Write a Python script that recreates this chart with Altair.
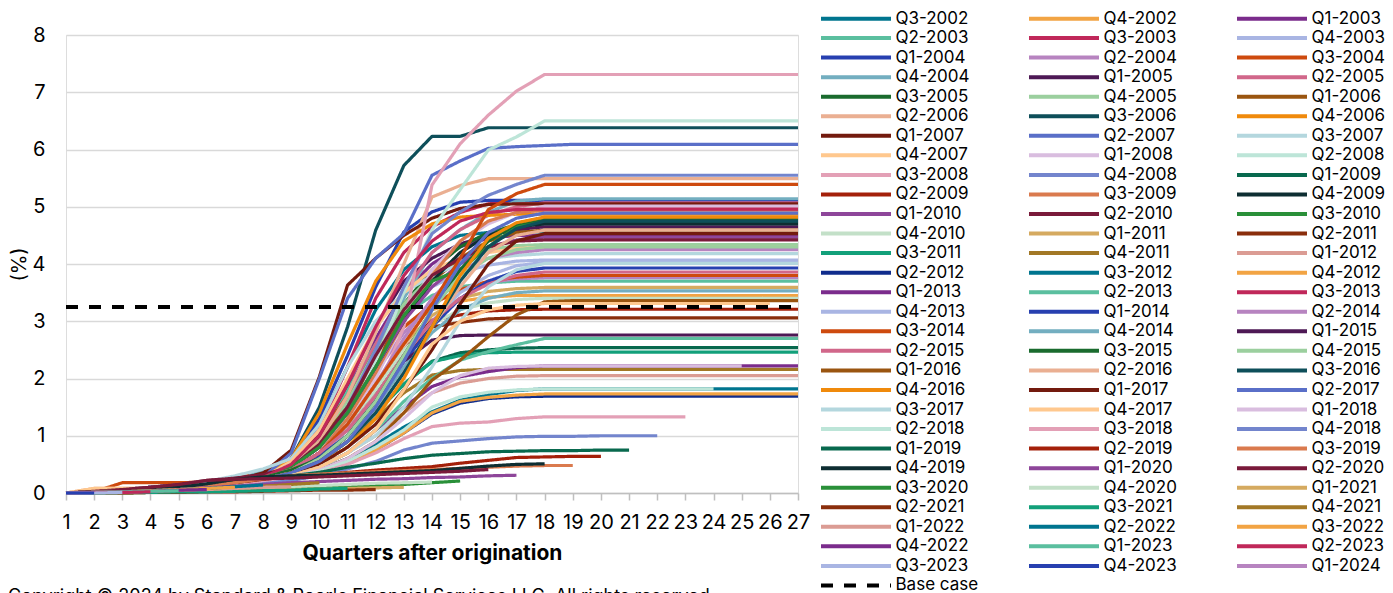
import altair as alt
import pandas as pd

cohorts = [
    "Q3-2002", "Q4-2002",
    "Q1-2003", "Q2-2003", "Q3-2003", "Q4-2003",
    "Q1-2004", "Q2-2004", "Q3-2004", "Q4-2004",
    "Q1-2005", "Q2-2005", "Q3-2005", "Q4-2005",
    "Q1-2006", "Q2-2006", "Q3-2006", "Q4-2006",
    "Q1-2007", "Q2-2007", "Q3-2007", "Q4-2007",
    "Q1-2008", "Q2-2008", "Q3-2008", "Q4-2008",
    "Q1-2009", "Q2-2009", "Q3-2009", "Q4-2009",
    "Q1-2010", "Q2-2010", "Q3-2010", "Q4-2010",
    "Q1-2011", "Q2-2011", "Q3-2011", "Q4-2011",
    "Q1-2012", "Q2-2012", "Q3-2012", "Q4-2012",
    "Q1-2013", "Q2-2013", "Q3-2013", "Q4-2013",
    "Q1-2014", "Q2-2014", "Q3-2014", "Q4-2014",
    "Q1-2015", "Q2-2015", "Q3-2015", "Q4-2015",
    "Q1-2016", "Q2-2016", "Q3-2016", "Q4-2016",
    "Q1-2017", "Q2-2017", "Q3-2017", "Q4-2017",
    "Q1-2018", "Q2-2018", "Q3-2018", "Q4-2018",
    "Q1-2019", "Q2-2019", "Q3-2019", "Q4-2019",
    "Q1-2020", "Q2-2020", "Q3-2020", "Q4-2020",
    "Q1-2021", "Q2-2021", "Q3-2021", "Q4-2021",
    "Q1-2022", "Q2-2022", "Q3-2022", "Q4-2022",
    "Q1-2023", "Q2-2023", "Q3-2023", "Q4-2023",
    "Q1-2024",
]

# cumulative values (%) by quarter after origination, one list per cohort
loss_2002 = [
    [0, 0.02, 0.04, 0.06, 0.09, 0.13, 0.19, 0.27, 0.6, 1.2, 2.2, 3.2, 3.9, 4.3, 4.5, 4.55, 4.56, 4.56, 4.56, 4.56, 4.56, 4.56, 4.56, 4.56, 4.56, 4.56, 4.56],
    [0, 0.01, 0.03, 0.05, 0.07, 0.11, 0.16, 0.24, 0.5, 0.9, 1.6, 2.3, 2.9, 3.2, 3.35, 3.42, 3.45, 3.45, 3.45, 3.45, 3.45, 3.45, 3.45, 3.45, 3.45, 3.45, 3.45],
]
loss_2003 = [
    [0, 0.03, 0.06, 0.1, 0.14, 0.2, 0.26, 0.32, 0.5, 1.0, 1.8, 2.7, 3.5, 4.0, 4.3, 4.45, 4.5, 4.5, 4.5, 4.5, 4.5, 4.5, 4.5, 4.5, 4.5, 4.5, 4.5],
    [0, 0.02, 0.04, 0.06, 0.09, 0.13, 0.19, 0.27, 0.55, 1.0, 1.8, 2.6, 3.1, 3.45, 3.6, 3.67, 3.7, 3.7, 3.7, 3.7, 3.7, 3.7, 3.7, 3.7, 3.7, 3.7, 3.7],
    [0, 0.02, 0.04, 0.06, 0.09, 0.13, 0.19, 0.27, 0.55, 1.1, 2.2, 3.4, 4.2, 4.65, 4.9, 5.05, 5.1, 5.1, 5.1, 5.1, 5.1, 5.1, 5.1, 5.1, 5.1, 5.1, 5.1],
    [0, 0.01, 0.03, 0.05, 0.07, 0.11, 0.16, 0.24, 0.5, 0.9, 1.6, 2.4, 3.1, 3.6, 3.85, 3.98, 4.05, 4.07, 4.07, 4.07, 4.07, 4.07, 4.07, 4.07, 4.07, 4.07, 4.07],
]
loss_2004 = [
    [0, 0.03, 0.06, 0.1, 0.14, 0.2, 0.26, 0.32, 0.6, 1.3, 2.4, 3.6, 4.56, 4.91, 5.08, 5.11, 5.11, 5.11, 5.11, 5.11, 5.11, 5.11, 5.11, 5.11, 5.11, 5.11, 5.11],
    [0, 0.02, 0.04, 0.06, 0.09, 0.13, 0.19, 0.27, 0.45, 0.8, 1.4, 2.1, 2.8, 3.3, 3.55, 3.68, 3.74, 3.76, 3.76, 3.76, 3.76, 3.76, 3.76, 3.76, 3.76, 3.76, 3.76],
    [0, 0.02, 0.18, 0.18, 0.18, 0.19, 0.28, 0.33, 0.55, 1.0, 1.7, 2.4, 2.9, 3.3, 3.55, 3.7, 3.77, 3.8, 3.8, 3.8, 3.8, 3.8, 3.8, 3.8, 3.8, 3.8, 3.8],
    [0, 0.02, 0.04, 0.06, 0.09, 0.13, 0.19, 0.4, 0.5, 0.9, 1.6, 2.5, 3.4, 4.2, 4.6, 4.9, 5.1, 5.14, 5.14, 5.14, 5.14, 5.14, 5.14, 5.14, 5.14, 5.14, 5.14],
]
loss_2005 = [
    [0, 0.03, 0.06, 0.1, 0.14, 0.2, 0.26, 0.32, 0.5, 1.0, 1.9, 2.9, 3.7, 4.1, 4.35, 4.5, 4.6, 4.65, 4.65, 4.65, 4.65, 4.65, 4.65, 4.65, 4.65, 4.65, 4.65],
    [0, 0.02, 0.04, 0.06, 0.09, 0.13, 0.19, 0.27, 0.45, 0.9, 1.7, 2.6, 3.5, 4.2, 4.6, 4.85, 5.0, 5.07, 5.07, 5.07, 5.07, 5.07, 5.07, 5.07, 5.07, 5.07, 5.07],
    [0, 0.02, 0.04, 0.06, 0.09, 0.13, 0.19, 0.27, 0.5, 0.9, 1.6, 2.5, 3.3, 3.9, 4.3, 4.55, 4.68, 4.72, 4.72, 4.72, 4.72, 4.72, 4.72, 4.72, 4.72, 4.72, 4.72],
    [0, 0.01, 0.03, 0.05, 0.07, 0.11, 0.16, 0.24, 0.5, 0.9, 1.6, 2.5, 3.3, 3.8, 4.1, 4.25, 4.32, 4.34, 4.34, 4.34, 4.34, 4.34, 4.34, 4.34, 4.34, 4.34, 4.34],
]
loss_2006 = [
    [0, 0.02, 0.04, 0.06, 0.09, 0.13, 0.19, 0.27, 0.5, 0.9, 1.5, 2.3, 3.1, 3.7, 4.1, 4.4, 4.55, 4.59, 4.59, 4.59, 4.59, 4.59, 4.59, 4.59, 4.59, 4.59, 4.59],
    [0, 0.08, 0.08, 0.08, 0.09, 0.11, 0.16, 0.24, 0.5, 0.9, 1.7, 2.8, 4.0, 5.17, 5.37, 5.49, 5.49, 5.49, 5.49, 5.49, 5.49, 5.49, 5.49, 5.49, 5.49, 5.49, 5.49],
    [0, 0.02, 0.04, 0.06, 0.09, 0.13, 0.19, 0.27, 0.6, 1.5, 2.9, 4.59, 5.72, 6.23, 6.23, 6.38, 6.38, 6.38, 6.38, 6.38, 6.38, 6.38, 6.38, 6.38, 6.38, 6.38, 6.38],
    [0, 0.02, 0.04, 0.06, 0.09, 0.13, 0.19, 0.27, 0.6, 1.4, 2.6, 3.7, 4.4, 4.7, 4.82, 4.85, 4.87, 4.87, 4.87, 4.87, 4.87, 4.87, 4.87, 4.87, 4.87, 4.87, 4.87],
]
loss_2007 = [
    [0, 0.02, 0.04, 0.07, 0.1, 0.15, 0.22, 0.35, 0.75, 2.03, 3.63, 4.1, 4.5, 4.8, 4.97, 5.04, 5.05, 5.05, 5.05, 5.05, 5.05, 5.05, 5.05, 5.05, 5.05, 5.05, 5.05],
    [0, 0.02, 0.04, 0.06, 0.09, 0.13, 0.19, 0.27, 0.7, 2.0, 3.4, 4.1, 4.53, 5.55, 5.8, 6.02, 6.05, 6.07, 6.09, 6.09, 6.09, 6.09, 6.09, 6.09, 6.09, 6.09, 6.09],
    [0, 0.03, 0.06, 0.1, 0.14, 0.2, 0.3, 0.42, 0.6, 1.2, 2.2, 3.0, 3.5, 3.8, 4.0, 4.1, 4.15, 4.18, 4.18, 4.18, 4.18, 4.18, 4.18, 4.18, 4.18, 4.18, 4.18],
    [0, 0.08, 0.08, 0.08, 0.09, 0.13, 0.19, 0.27, 0.55, 1.1, 2.0, 2.9, 3.5, 3.9, 4.1, 4.2, 4.27, 4.29, 4.29, 4.29, 4.29, 4.29, 4.29, 4.29, 4.29, 4.29, 4.29],
]
loss_2008 = [
    [0, 0.01, 0.03, 0.05, 0.07, 0.11, 0.16, 0.24, 0.4, 0.7, 1.2, 2.0, 3.0, 3.9, 4.4, 4.7, 4.9, 5.01, 5.01, 5.01, 5.01, 5.01, 5.01, 5.01, 5.01, 5.01, 5.01],
    [0, 0.02, 0.04, 0.06, 0.09, 0.13, 0.19, 0.27, 0.5, 0.8, 1.3, 2.3, 3.5, 4.6, 5.3, 5.99, 6.22, 6.5, 6.5, 6.5, 6.5, 6.5, 6.5, 6.5, 6.5, 6.5, 6.5],
    [0, 0.01, 0.03, 0.05, 0.07, 0.11, 0.16, 0.24, 0.4, 0.6, 1.0, 1.7, 2.9, 5.38, 6.1, 6.6, 7.02, 7.31, 7.31, 7.31, 7.31, 7.31, 7.31, 7.31, 7.31, 7.31, 7.31],
    [0, 0.02, 0.04, 0.06, 0.09, 0.13, 0.19, 0.27, 0.45, 0.8, 1.5, 2.5, 3.6, 4.53, 4.91, 5.2, 5.39, 5.55, 5.55, 5.55, 5.55, 5.55, 5.55, 5.55, 5.55, 5.55, 5.55],
]
loss_2009 = [
    [0, 0.01, 0.03, 0.05, 0.07, 0.11, 0.16, 0.24, 0.35, 0.55, 0.9, 1.4, 1.9, 2.3, 2.45, 2.5, 2.53, 2.54, 2.54, 2.54, 2.54, 2.54, 2.54, 2.54, 2.54, 2.54, 2.54],
    [0, 0.02, 0.04, 0.06, 0.09, 0.13, 0.19, 0.27, 0.4, 0.7, 1.2, 1.8, 2.5, 3.02, 3.11, 3.18, 3.2, 3.21, 3.21, 3.21, 3.21, 3.21, 3.21, 3.21, 3.21, 3.21, 3.21],
    [0, 0.02, 0.04, 0.06, 0.09, 0.13, 0.19, 0.27, 0.4, 0.7, 1.3, 2.1, 3.0, 3.8, 4.4, 4.75, 4.9, 4.94, 4.94, 4.94, 4.94, 4.94, 4.94, 4.94, 4.94, 4.94, 4.94],
    [0, 0.01, 0.03, 0.05, 0.07, 0.11, 0.16, 0.24, 0.45, 0.8, 1.4, 2.2, 3.0, 3.7, 4.2, 4.5, 4.65, 4.7, 4.7, 4.7, 4.7, 4.7, 4.7, 4.7, 4.7, 4.7, 4.7],
]
loss_2010 = [
    [0, 0.02, 0.04, 0.06, 0.09, 0.13, 0.19, 0.27, 0.45, 0.8, 1.4, 2.2, 3.0, 3.6, 4.0, 4.3, 4.42, 4.47, 4.47, 4.47, 4.47, 4.47, 4.47, 4.47, 4.47, 4.47, 4.47],
    [0, 0.03, 0.06, 0.1, 0.14, 0.22, 0.26, 0.32, 0.45, 0.85, 1.5, 2.4, 3.2, 3.8, 4.1, 4.3, 4.4, 4.42, 4.42, 4.42, 4.42, 4.42, 4.42, 4.42, 4.42, 4.42, 4.42],
    [0, 0.02, 0.04, 0.06, 0.09, 0.13, 0.19, 0.27, 0.45, 0.8, 1.4, 2.2, 3.1, 3.7, 3.9, 4.3, 4.65, 4.76, 4.76, 4.76, 4.76, 4.76, 4.76, 4.76, 4.76, 4.76, 4.76],
    [0, 0.01, 0.03, 0.05, 0.07, 0.11, 0.16, 0.24, 0.4, 0.7, 1.2, 1.8, 2.5, 2.95, 3.2, 3.32, 3.38, 3.4, 3.4, 3.4, 3.4, 3.4, 3.4, 3.4, 3.4, 3.4, 3.4],
]
loss_2011 = [
    [0, 0.02, 0.04, 0.06, 0.09, 0.13, 0.19, 0.27, 0.4, 0.7, 1.2, 1.9, 2.6, 3.1, 3.4, 3.52, 3.57, 3.59, 3.59, 3.59, 3.59, 3.59, 3.59, 3.59, 3.59, 3.59, 3.59],
    [0, 0.01, 0.03, 0.05, 0.07, 0.11, 0.16, 0.24, 0.4, 0.65, 1.1, 1.7, 2.4, 2.9, 2.98, 3.04, 3.06, 3.06, 3.06, 3.06, 3.06, 3.06, 3.06, 3.06, 3.06, 3.06, 3.06],
    [0, 0.01, 0.02, 0.03, 0.05, 0.08, 0.12, 0.2, 0.35, 0.55, 0.9, 1.4, 1.9, 2.29, 2.4, 2.45, 2.46, 2.46, 2.46, 2.46, 2.46, 2.46, 2.46, 2.46, 2.46, 2.46, 2.46],
    [0, 0.01, 0.03, 0.05, 0.07, 0.11, 0.16, 0.24, 0.35, 0.55, 0.9, 1.3, 1.75, 2.06, 2.14, 2.16, 2.16, 2.16, 2.16, 2.16, 2.16, 2.16, 2.16, 2.16, 2.16, 2.16, 2.16],
]
loss_2012 = [
    [0, 0.01, 0.02, 0.03, 0.05, 0.08, 0.12, 0.2, 0.3, 0.45, 0.7, 1.0, 1.4, 1.75, 1.92, 2.0, 2.04, 2.05, 2.05, 2.05, 2.05, 2.05, 2.05, 2.05, 2.05, 2.05, 2.05],
    [0, 0.01, 0.02, 0.03, 0.05, 0.08, 0.12, 0.2, 0.28, 0.38, 0.55, 0.75, 1.05, 1.38, 1.57, 1.65, 1.68, 1.69, 1.69, 1.69, 1.69, 1.69, 1.69, 1.69, 1.69, 1.69, 1.69],
    [0, 0.01, 0.02, 0.03, 0.05, 0.08, 0.12, 0.2, 0.3, 0.4, 0.6, 0.85, 1.15, 1.42, 1.62, 1.72, 1.79, 1.82, 1.82, 1.82, 1.82, 1.82, 1.82, 1.82, 1.82, 1.82, 1.82],
    [0, 0.01, 0.02, 0.03, 0.05, 0.08, 0.12, 0.2, 0.3, 0.4, 0.55, 0.75, 1.05, 1.4, 1.6, 1.67, 1.71, 1.73, 1.73, 1.73, 1.73, 1.73, 1.73, 1.73, 1.73, 1.73, 1.73],
]
loss_2013 = [
    [0, 0.01, 0.02, 0.03, 0.05, 0.08, 0.12, 0.2, 0.3, 0.45, 0.7, 1.1, 1.5, 1.86, 2.03, 2.12, 2.19, 2.22, 2.22, 2.22, 2.22, 2.22, 2.22, 2.22, 2.22, 2.22, 2.22],
    [0, 0.01, 0.02, 0.03, 0.05, 0.08, 0.12, 0.2, 0.3, 0.45, 0.7, 1.1, 1.6, 2.0, 2.32, 2.47, 2.59, 2.7, 2.7, 2.7, 2.7, 2.7, 2.7, 2.7, 2.7, 2.7, 2.7],
    [0, 0.02, 0.04, 0.06, 0.09, 0.13, 0.19, 0.27, 0.5, 1.0, 1.9, 2.9, 3.8, 4.4, 4.75, 4.9, 4.95, 4.96, 4.96, 4.96, 4.96, 4.96, 4.96, 4.96, 4.96, 4.96, 4.96],
    [0, 0.01, 0.03, 0.05, 0.07, 0.11, 0.16, 0.24, 0.4, 0.65, 1.1, 1.7, 2.4, 3.0, 3.5, 3.8, 3.97, 4.03, 4.03, 4.03, 4.03, 4.03, 4.03, 4.03, 4.03, 4.03, 4.03],
]
loss_2014 = [
    [0, 0.01, 0.03, 0.05, 0.07, 0.11, 0.16, 0.24, 0.4, 0.65, 1.0, 1.6, 2.3, 2.9, 3.4, 3.7, 3.87, 3.93, 3.93, 3.93, 3.93, 3.93, 3.93, 3.93, 3.93, 3.93, 3.93],
    [0, 0.02, 0.04, 0.06, 0.09, 0.13, 0.19, 0.27, 0.4, 0.7, 1.2, 1.9, 2.7, 3.4, 3.9, 4.1, 4.2, 4.25, 4.25, 4.25, 4.25, 4.25, 4.25, 4.25, 4.25, 4.25, 4.25],
    [0, 0.02, 0.04, 0.06, 0.09, 0.13, 0.19, 0.27, 0.4, 0.7, 1.2, 1.9, 2.6, 3.3, 4.1, 4.95, 5.23, 5.39, 5.39, 5.39, 5.39, 5.39, 5.39, 5.39, 5.39, 5.39, 5.39],
    [0, 0.01, 0.03, 0.05, 0.07, 0.11, 0.16, 0.24, 0.35, 0.6, 1.0, 1.5, 2.2, 2.8, 3.2, 3.4, 3.5, 3.53, 3.53, 3.53, 3.53, 3.53, 3.53, 3.53, 3.53, 3.53, 3.53],
]
loss_2015 = [
    [0, 0.01, 0.03, 0.05, 0.07, 0.15, 0.22, 0.26, 0.35, 0.6, 1.0, 1.6, 2.3, 2.67, 2.75, 2.76, 2.76, 2.76, 2.76, 2.76, 2.76, 2.76, 2.76, 2.76, 2.76, 2.76, 2.76],
    [0, 0.02, 0.04, 0.06, 0.09, 0.13, 0.19, 0.27, 0.4, 0.7, 1.1, 1.7, 2.4, 3.0, 3.4, 3.65, 3.8, 3.86, 3.86, 3.86, 3.86, 3.86, 3.86, 3.86, 3.86, 3.86, 3.86],
    [0, 0.02, 0.04, 0.06, 0.09, 0.13, 0.19, 0.27, 0.4, 0.6, 1.0, 1.6, 2.4, 3.2, 3.9, 4.4, 4.7, 4.79, 4.79, 4.79, 4.79, 4.79, 4.79, 4.79, 4.79, 4.79, 4.79],
    [0, 0.01, 0.03, 0.05, 0.07, 0.11, 0.16, 0.24, 0.35, 0.6, 1.0, 1.6, 2.4, 3.2, 3.8, 4.1, 4.25, 4.3, 4.3, 4.3, 4.3, 4.3, 4.3, 4.3, 4.3, 4.3, 4.3],
]
loss_2016 = [
    [0, 0.01, 0.02, 0.03, 0.05, 0.08, 0.12, 0.2, 0.3, 0.4, 0.6, 0.9, 1.4, 1.97, 2.32, 2.73, 3.11, 3.34, 3.36, 3.36, 3.36, 3.36, 3.36, 3.36, 3.36, 3.36, 3.36],
    [0, 0.01, 0.03, 0.05, 0.07, 0.11, 0.16, 0.24, 0.35, 0.55, 0.9, 1.4, 2.1, 2.9, 3.6, 4.2, 4.5, 4.59, 4.59, 4.59, 4.59, 4.59, 4.59, 4.59, 4.59, 4.59, 4.59],
    [0, 0.01, 0.03, 0.05, 0.07, 0.11, 0.16, 0.24, 0.35, 0.55, 0.9, 1.4, 2.1, 2.9, 3.7, 4.3, 4.62, 4.75, 4.75, 4.75, 4.75, 4.75, 4.75, 4.75, 4.75, 4.75, 4.75],
    [0, 0.01, 0.03, 0.05, 0.07, 0.11, 0.16, 0.24, 0.35, 0.5, 0.8, 1.3, 2.0, 2.9, 3.8, 4.45, 4.72, 4.82, 4.82, 4.82, 4.82, 4.82, 4.82, 4.82, 4.82, 4.82, 4.82],
]
loss_2017 = [
    [0, 0.01, 0.02, 0.03, 0.05, 0.08, 0.12, 0.2, 0.35, 0.5, 0.8, 1.2, 1.8, 2.5, 3.3, 4.0, 4.4, 4.53, 4.53, 4.53, 4.53, 4.53, 4.53, 4.53, 4.53, 4.53, 4.53],
    [0, 0.01, 0.03, 0.05, 0.07, 0.11, 0.16, 0.24, 0.35, 0.55, 0.9, 1.5, 2.3, 3.2, 4.0, 4.55, 4.8, 4.89, 4.89, 4.89, 4.89, 4.89, 4.89, 4.89, 4.89, 4.89, 4.89],
    [0, 0.01, 0.02, 0.03, 0.05, 0.08, 0.12, 0.2, 0.3, 0.45, 0.7, 1.0, 1.5, 2.2, 3.0, 3.6, 3.9, 4.01, 4.01, 4.01, 4.01, 4.01, 4.01, 4.01, 4.01, 4.01, 4.01],
    [0, 0.01, 0.02, 0.03, 0.05, 0.08, 0.12, 0.2, 0.3, 0.45, 0.7, 1.1, 1.8, 2.6, 3.0, 3.2, 3.28, 3.31, 3.31, 3.31, 3.31, 3.31, 3.31, 3.31, 3.31, 3.31],
]
loss_2018 = [
    [0, 0.01, 0.02, 0.03, 0.05, 0.08, 0.12, 0.2, 0.28, 0.4, 0.6, 0.9, 1.3, 1.75, 2.05, 2.18, 2.21, 2.22, 2.22, 2.22, 2.22, 2.22, 2.22, 2.22, 2.22],
    [0, 0.01, 0.02, 0.03, 0.05, 0.08, 0.12, 0.2, 0.28, 0.38, 0.55, 0.8, 1.1, 1.5, 1.68, 1.76, 1.8, 1.82, 1.82, 1.82, 1.82, 1.82, 1.82, 1.82],
    [0, 0.01, 0.02, 0.03, 0.05, 0.08, 0.12, 0.2, 0.25, 0.35, 0.5, 0.7, 0.95, 1.16, 1.22, 1.24, 1.3, 1.33, 1.33, 1.33, 1.33, 1.33, 1.33],
    [0, 0.01, 0.02, 0.03, 0.05, 0.07, 0.1, 0.16, 0.22, 0.3, 0.42, 0.55, 0.75, 0.87, 0.91, 0.95, 0.98, 0.99, 0.99, 1.0, 1.0, 1.0],
]
loss_2019 = [
    [0, 0.01, 0.03, 0.05, 0.08, 0.12, 0.18, 0.25, 0.3, 0.36, 0.45, 0.52, 0.6, 0.66, 0.69, 0.72, 0.73, 0.74, 0.74, 0.75, 0.75],
    [0, 0.01, 0.03, 0.05, 0.08, 0.12, 0.18, 0.24, 0.28, 0.32, 0.36, 0.4, 0.43, 0.46, 0.52, 0.57, 0.62, 0.63, 0.64, 0.64],
    [0, 0.01, 0.03, 0.05, 0.08, 0.12, 0.18, 0.25, 0.3, 0.33, 0.35, 0.37, 0.39, 0.41, 0.43, 0.45, 0.47, 0.48, 0.48],
    [0, 0.01, 0.03, 0.06, 0.1, 0.16, 0.24, 0.28, 0.3, 0.31, 0.33, 0.35, 0.37, 0.39, 0.43, 0.47, 0.5, 0.51],
]
loss_2020 = [
    [0, 0.01, 0.02, 0.04, 0.06, 0.09, 0.12, 0.15, 0.18, 0.2, 0.22, 0.24, 0.25, 0.27, 0.28, 0.3, 0.31],
    [0, 0.02, 0.05, 0.1, 0.15, 0.22, 0.24, 0.25, 0.26, 0.28, 0.3, 0.32, 0.34, 0.36, 0.38, 0.41],
    [0, 0, 0, 0.01, 0.02, 0.03, 0.04, 0.05, 0.07, 0.09, 0.11, 0.13, 0.15, 0.18, 0.21],
    [0, 0.01, 0.02, 0.03, 0.04, 0.05, 0.07, 0.09, 0.11, 0.13, 0.15, 0.17, 0.18, 0.19],
]
loss_2021 = [
    [0, 0, 0.01, 0.01, 0.02, 0.03, 0.04, 0.05, 0.06, 0.07, 0.08, 0.09, 0.1],
    [0, 0, 0, 0.01, 0.01, 0.02, 0.02, 0.03, 0.04, 0.05, 0.05, 0.06],
    [0, 0, 0.01, 0.01, 0.02, 0.02, 0.03, 0.04, 0.05, 0.07, 0.08],
    [0, 0.01, 0.02, 0.03, 0.05, 0.07, 0.09, 0.12, 0.15, 0.18],
]
loss_2022 = [
    [0, 0.01, 0.02, 0.03, 0.05, 0.06, 0.08, 0.1, 0.11],
    [0, 0.01, 0.02, 0.04, 0.06, 0.08, 0.11, 0.14],
    [0, 0.01, 0.02, 0.04, 0.06, 0.08, 0.1],
    [0, 0.01, 0.02, 0.03, 0.05, 0.06],
]
loss_2023 = [
    [0, 0.01, 0.02, 0.03, 0.04],
    [0, 0.01, 0.01, 0.02],
    [0, 0, 0.01],
    [0, 0],
]
loss_2024 = [
    [0],
]

base_case_label = "Base case"
base_case_quarters = [1, 27]
base_case_values = [3.25, 3.25]

copyright_text = "Copyright \u00a9 2024 by Standard & Poor's Financial Services LLC. All rights reserved."

# ---- styling ----
palette = [
    "#00758F", "#F2A444", "#7B2C8C", "#5BBF9F", "#C0285A", "#A9B5E3", "#2740B0", "#B784C0",
    "#CE4A0E", "#73AEC0", "#4E1955", "#D1678A", "#1A6B2E", "#9BCF9E", "#9A5510", "#EAAF92",
    "#0E4F5A", "#F08A0C", "#731A0E", "#5A6FC8", "#B4D7DE", "#FFC88E", "#D9BDDF", "#BDE5D8",
    "#E3A0B6", "#7385CD", "#08694E", "#A4200A", "#DA7A4E", "#0E2E32", "#8E469A", "#7A1A3A",
    "#2A9039", "#C3E0C8", "#D5AA60", "#8A2E0C", "#12A07A", "#A27826", "#DB9C94", "#102C8C",
]
series_colors = palette[:40] + palette[:39] + palette[:8]

all_series = (loss_2002 + loss_2003 + loss_2004 + loss_2005 + loss_2006 + loss_2007 +
              loss_2008 + loss_2009 + loss_2010 + loss_2011 + loss_2012 + loss_2013 +
              loss_2014 + loss_2015 + loss_2016 + loss_2017 + loss_2018 + loss_2019 +
              loss_2020 + loss_2021 + loss_2022 + loss_2023 + loss_2024)

rows = []
for order, (name, vals) in enumerate(zip(cohorts, all_series)):
    for i, v in enumerate(vals):
        rows.append({"series": name, "q": i + 1, "v": v, "o": order})
df = pd.DataFrame(rows)

base_df = pd.DataFrame({"series": [base_case_label] * 2, "q": base_case_quarters, "v": base_case_values})
note_df = pd.DataFrame({"t": [copyright_text]})

domain = cohorts + [base_case_label]
color_range = series_colors + ["#000000"]
dash_range = [[1, 0]] * len(cohorts) + [[12, 11]]

FONT = "Inter"

legend = alt.Legend(
    title=None, orient="none", legendX=751, legendY=-25, columns=3, direction="horizontal",
    symbolType="M-7,0L7,0", symbolSize=100, symbolStrokeWidth=4,
    symbolOffset=30.5, labelOffset=31, labelFont=FONT, labelFontSize=17,
    labelColor="#000000", rowPadding=1.55, columnPadding=42, gridAlign="all",
    symbolLimit=200, padding=0, labelLimit=300,
)

x_enc = alt.X(
    "q:Q", title="Quarters after origination",
    scale=alt.Scale(domain=[1, 27], nice=False, zero=False),
    axis=alt.Axis(values=list(range(1, 28)), labelFont=FONT, labelFontSize=20, labelColor="#000000",
                  labelFlush=False, labelOverlap=False, domainColor="#bfbfbf", domainWidth=1.5,
                  tickColor="#bfbfbf", tickSize=7, tickWidth=1.5, labelPadding=12, grid=False,
                  titleFont=FONT, titleFontSize=21, titleFontWeight="bold", titleColor="#000000",
                  titleBaseline="top", titleY=49),
)
y_enc = alt.Y(
    "v:Q", title="(%)",
    scale=alt.Scale(domain=[0, 8], nice=False),
    axis=alt.Axis(values=list(range(0, 9)), labelFont=FONT, labelFontSize=20, labelColor="#000000",
                  labelFlush=False, domain=False, ticks=False, tickSize=0, labelPadding=21,
                  grid=True, gridColor="#d9d9d9", gridWidth=1.5,
                  titleFont=FONT, titleFontSize=20, titleFontWeight="normal", titleColor="#000000",
                  titleAngle=270, titleBaseline="middle", titleX=-47, titleY=229),
)
color_enc = alt.Color("series:N", scale=alt.Scale(domain=domain, range=color_range), legend=legend)
dash_enc = alt.StrokeDash("series:N", scale=alt.Scale(domain=domain, range=dash_range), legend=legend)

lines = alt.Chart(df).mark_line(strokeWidth=3.2, strokeJoin="round").encode(
    x=x_enc, y=y_enc, color=color_enc, strokeDash=dash_enc,
)
base_line = alt.Chart(base_df).mark_line(strokeWidth=4).encode(
    x=x_enc, y=y_enc, color=color_enc, strokeDash=dash_enc,
)
note = alt.Chart(note_df).mark_text(align="left", baseline="top", font=FONT, fontSize=18,
                                     color="#000000").encode(
    text="t:N", x=alt.value(-58), y=alt.value(553),
)

chart = alt.layer(lines, base_line, note).properties(
    width=732, height=458,
    padding={"left": 58, "top": 27, "right": 587, "bottom": 100},
    autosize=alt.AutoSizeParams(type="none"),
).configure_view(stroke=None).configure(font=FONT)

chart.save("out.html", embed_options={"renderer": "svg", "actions": False})
